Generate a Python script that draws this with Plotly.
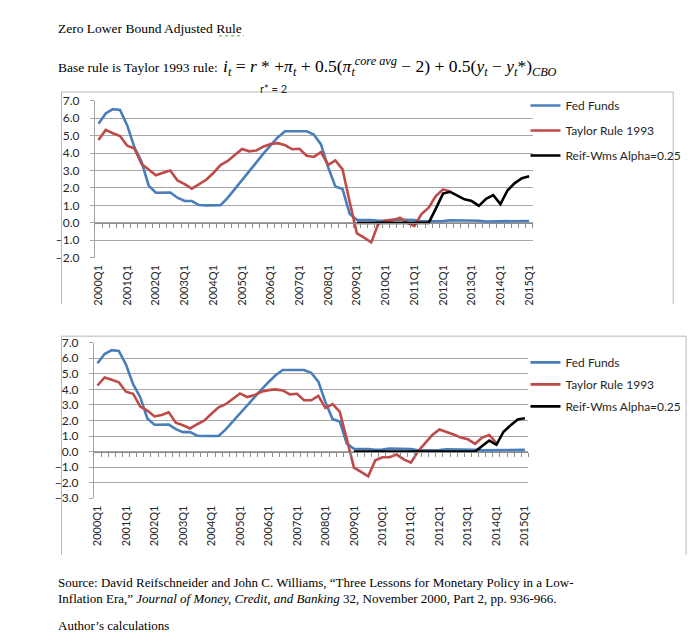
import plotly.graph_objects as go

# ---------------- data ----------------
years = list(range(2000, 2016))
quarters = [f"{y}Q{q}" for y in years for q in range(1, 5)][:61]   # 2000Q1 .. 2015Q1
tick_labels = quarters[::4]

fed_funds = [5.68, 6.27, 6.52, 6.47,
             5.59, 4.33, 3.50, 2.13,
             1.73, 1.75, 1.74, 1.44,
             1.25, 1.25, 1.02, 1.00,
             1.00, 1.01, 1.43, 1.95,
             2.47, 2.94, 3.46, 3.98,
             4.46, 4.91, 5.25, 5.25,
             5.26, 5.25, 5.07, 4.50,
             3.18, 2.09, 1.94, 0.51,
             0.18, 0.18, 0.16, 0.12,
             0.13, 0.19, 0.19, 0.19,
             0.16, 0.09, 0.08, 0.07,
             0.10, 0.15, 0.14, 0.16,
             0.14, 0.12, 0.08, 0.09,
             0.07, 0.09, 0.09, 0.10,
             0.11]

# top panel: Taylor rule 1993 (2000Q1 .. 2012Q2)
taylor_top = [4.75, 5.33, 5.14, 4.98,
              4.42, 4.26, 3.38, 3.05,
              2.73, 2.87, 3.00, 2.43,
              2.22, 1.96, 2.22, 2.47,
              2.86, 3.31, 3.55, 3.87,
              4.24, 4.10, 4.15, 4.38,
              4.52, 4.57, 4.45, 4.22,
              4.25, 3.85, 3.78, 4.06,
              3.32, 3.58, 3.07, 1.20,
              -0.60, -0.85, -1.12, -0.04,
              0.13, 0.14, 0.30, 0.01,
              -0.19, 0.50, 0.87, 1.53,
              1.92, 1.80]
# top panel: Reifschneider-Williams (2009Q1 .. 2015Q1)
reif_top = [0, 0, 0, 0, 0, 0, 0, 0, 0, 0, 0,
            0.82, 1.68, 1.78, 1.55, 1.35, 1.25, 0.97,
            1.38, 1.59, 1.08, 1.87, 2.28, 2.56, 2.67]

# bottom panel: Taylor rule 1993 (2000Q1 .. 2014Q1)
taylor_bottom = [4.25, 4.77, 4.62, 4.46,
                 3.85, 3.72, 2.89, 2.64,
                 2.26, 2.36, 2.53, 1.86,
                 1.69, 1.49, 1.76, 2.00,
                 2.43, 2.85, 3.05, 3.41,
                 3.74, 3.51, 3.62, 3.85,
                 3.95, 4.00, 3.93, 3.68,
                 3.72, 3.30, 3.30, 3.58,
                 2.80, 3.05, 2.57, 0.80,
                 -1.03, -1.30, -1.59, -0.56,
                 -0.36, -0.36, -0.19, -0.50,
                 -0.71, 0.02, 0.54, 1.07,
                 1.42, 1.28, 1.10, 0.90,
                 0.79, 0.50, 0.90, 1.07,
                 0.54]
# bottom panel: Reifschneider-Williams (2009Q1 .. 2015Q1)
reif_bottom = [0, 0, 0, 0, 0, 0, 0, 0, 0, 0, 0, 0, 0, 0, 0, 0, 0, 0,
               0.36, 0.71, 0.44, 1.28, 1.69, 2.07, 2.15]

series_names = ["Fed Funds", "Taylor Rule 1993", "Reif-Wms Alpha=0.25"]
series_colors = ["#4A7EBB", "#BE4B48", "#000000"]

# ---------------- layout helpers ----------------
W, H = 700, 643
def fx(px):
    return px / W
def fy(py):
    return 1 - py / H

TICK_FONT = dict(family="Lato", size=11, color="#262626")
SERIF = "Liberation Serif"
GRID = "#A6A6A6"
FRAME = "#B8B8B8"

# pixel geometry of the two plot areas
top_x0, top_x1, top_y7, top_ym2 = 91.7, 533.3, 95.0, 255.7
bot_x0, bot_x1, bot_y7, bot_ym3 = 90.7, 529.0, 342.7, 502.0

top_dom_y = [fy(top_ym2), fy(top_y7)]
bot_dom_y = [fy(bot_ym3), fy(bot_y7)]
top_zero = top_dom_y[0] + (0 - (-2)) / 9 * (top_dom_y[1] - top_dom_y[0])
bot_zero = bot_dom_y[0] + (0 - (-3)) / 10 * (bot_dom_y[1] - bot_dom_y[0])

fig = go.Figure()

def add_panel(xa, ya, xz, legend, taylor, reif):
    fig.add_trace(go.Scatter(x=quarters, y=fed_funds, name=series_names[0], mode="lines",
                             line=dict(color=series_colors[0], width=2.6),
                             xaxis=xa, yaxis=ya, legend=legend, legendgroup=legend + "a"))
    fig.add_trace(go.Scatter(x=quarters[:len(taylor)], y=taylor, name=series_names[1], mode="lines",
                             line=dict(color=series_colors[1], width=2.6),
                             xaxis=xa, yaxis=ya, legend=legend, legendgroup=legend + "b"))
    fig.add_trace(go.Scatter(x=quarters[61 - len(reif):], y=reif, name=series_names[2], mode="lines",
                             line=dict(color=series_colors[2], width=2.6),
                             xaxis=xa, yaxis=ya, legend=legend, legendgroup=legend + "c"))
    # invisible carrier for the zero-line category axis
    fig.add_trace(go.Scatter(x=quarters, y=fed_funds, mode="lines", opacity=0,
                             showlegend=False, hoverinfo="skip",
                             xaxis=xz, yaxis=ya))

add_panel("x", "y", "x3", "legend", taylor_top, reif_top)
add_panel("x2", "y2", "x4", "legend2", taylor_bottom, reif_bottom)

def xaxis_main(domain, anchor):
    return dict(domain=domain, anchor=anchor, type="category", range=[-0.5, 60.5],
                categoryorder="array", categoryarray=quarters,
                tickvals=tick_labels, ticktext=tick_labels, tickangle=-90,
                tickfont=TICK_FONT, showgrid=False, showline=False, zeroline=False,
                ticks="", ticklabelstandoff=4)

def xaxis_zero(overlay, pos):
    return dict(overlaying=overlay, anchor="free", position=pos, type="category",
                range=[-0.5, 60.5], categoryorder="array", categoryarray=quarters,
                showticklabels=False, showgrid=False, zeroline=False,
                showline=True, linecolor="#8C8C8C", linewidth=1,
                ticks="outside", tickson="boundaries", ticklen=4, tickcolor="#8C8C8C",
                tickvals=quarters)

def yaxis(domain, anchor, rng):
    return dict(domain=domain, anchor=anchor, range=rng, dtick=1, tick0=0,
                tickformat=".1f", tickfont=dict(family="Lato", size=12, color="#262626"),
                showgrid=True, gridcolor=GRID,
                gridwidth=1, zeroline=False, showline=True, linecolor=GRID, linewidth=1,
                ticks="outside", ticklen=4, tickcolor=GRID, ticklabelstandoff=8)

fig.update_layout(
    width=W, height=H, margin=dict(l=0, r=0, t=0, b=0),
    paper_bgcolor="white", plot_bgcolor="white", showlegend=True,
    xaxis=xaxis_main([fx(top_x0), fx(top_x1)], "y"),
    xaxis2=xaxis_main([fx(bot_x0), fx(bot_x1)], "y2"),
    xaxis3=xaxis_zero("x", top_zero),
    xaxis4=xaxis_zero("x2", bot_zero),
    yaxis=yaxis(top_dom_y, "x", [-2.0001, 7.0001]),
    yaxis2=yaxis(bot_dom_y, "x2", [-3.0001, 7.0001]),
    legend=dict(x=fx(526), y=fy(85), xanchor="left", yanchor="top",
                font=dict(family="Lato", size=12, color="#262626"),
                bgcolor="rgba(0,0,0,0)", tracegroupgap=6, itemwidth=30),
    legend2=dict(x=fx(526), y=fy(348), xanchor="left", yanchor="top",
                 font=dict(family="Lato", size=12, color="#262626"),
                 bgcolor="rgba(0,0,0,0)", tracegroupgap=3, itemwidth=30),
)

# chart frames (Excel chart-area borders)
frame_lines = [
    (58, 86, 675, 86), (58, 86, 58, 303), (675, 86, 675, 303),
    (58, 336, 688, 336), (58, 336, 58, 560), (688, 336, 688, 560),
]
for x0, y0, x1, y1 in frame_lines:
    fig.add_shape(type="line", xref="paper", yref="paper",
                  x0=fx(x0), y0=fy(y0), x1=fx(x1), y1=fy(y1),
                  line=dict(color=FRAME, width=1))

# spell-check squiggle under "Rule"
fig.add_shape(type="line", xref="paper", yref="paper",
              x0=fx(217), y0=fy(28.5), x1=fx(242), y1=fy(28.5),
              line=dict(color="#3CB043", width=1, dash="dot"))

def note(text, px, py, size=13, family=SERIF, color="#000000", anchor="left"):
    fig.add_annotation(text=text, x=fx(px), y=fy(py), xref="paper", yref="paper",
                       xanchor=anchor, yanchor="middle", showarrow=False,
                       font=dict(family=family, size=size, color=color))

note("Zero Lower Bound Adjusted Rule", 52, 20.5, size=13.5)
note("Base rule is Taylor 1993 rule:", 52, 60.5, size=13.5)
formula = ("<i>i</i><sub><i>t</i></sub> = <i>r</i> * +<i>π</i><sub><i>t</i></sub> + 0.5(<i>π</i>"
           "<sub><i>t</i></sub><sup><i>core avg</i></sup> − 2) + 0.5(<i>y</i><sub><i>t</i></sub>"
           " − <i>y</i><sub><i>t</i></sub>*)<sub><i>CBO</i></sub>")
note(formula, 219, 60, size=17.5)
note("r* = 2", 256, 82, size=11, family="Lato", color="#262626")

note("Source: David Reifschneider and John C. Williams, “Three Lessons for Monetary Policy in a Low-",
     52, 588, size=13)
note("Inflation Era,” <i>Journal of Money, Credit, and Banking</i> 32, November 2000, Part 2, pp. 936-966.",
     52, 605, size=13)
note("Author’s calculations", 52, 632, size=13)

fig.write_html("out.html", config={"displayModeBar": False},
               post_script="document.body.style.margin='0';document.body.style.overflow='hidden';")
